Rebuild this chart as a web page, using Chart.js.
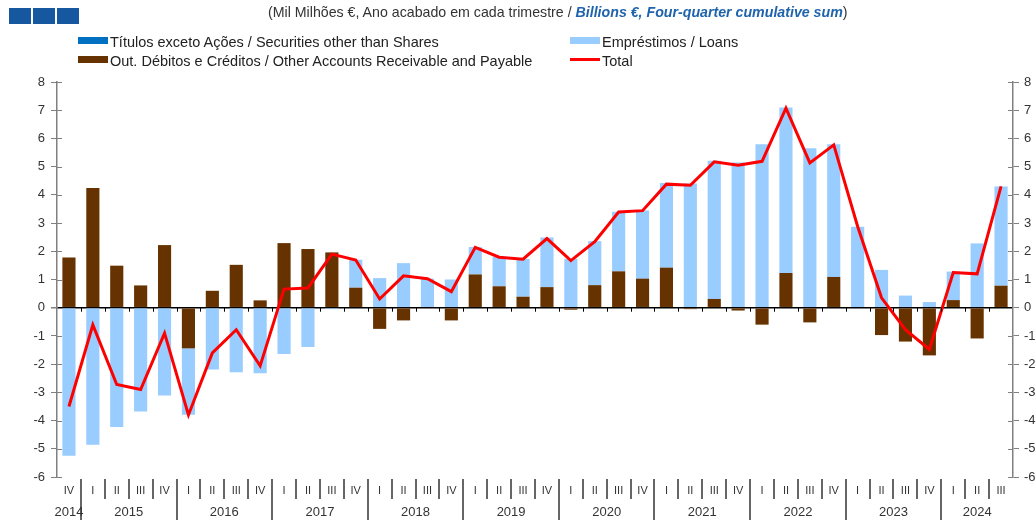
<!DOCTYPE html>
<html>
<head>
<meta charset="utf-8">
<script src="https://cdn.jsdelivr.net/npm/chart.js@4/dist/chart.umd.min.js"></script>
<style>
  html, body { margin: 0; padding: 0; background: #fff; }
  #wrap { position: relative; width: 1036px; height: 520px; font-family: "Liberation Sans", Arial, sans-serif; }
  #chart { position: absolute; left: 0; top: 0; }
  .logo { position: absolute; top: 8px; width: 22px; height: 16px; background: #1558a0; }
  #title { position: absolute; top: 4px; left: 268px; font-size: 14.2px; color: #333; white-space: nowrap; }
  #title i { color: #1f63ad; font-weight: bold; }
  .leg { position: absolute; font-size: 14.5px; color: #222; white-space: nowrap; line-height: 17px; }
  .sw { display: inline-block; width: 30px; height: 7px; vertical-align: 3px; margin-right: 2px; }
</style>
</head>
<body>
<div id="wrap">
  <canvas id="chart" width="1036" height="520"></canvas>
  <div class="logo" style="left:9px"></div>
  <div class="logo" style="left:33px"></div>
  <div class="logo" style="left:57px"></div>
  <div id="title">(Mil Milhões €, Ano acabado em cada trimestre / <i>Billions €, Four-quarter cumulative sum</i>)</div>
  <div class="leg" style="left:78px;top:34px"><span class="sw" style="background:#0070c0"></span>Títulos exceto Ações / Securities other than Shares</div>
  <div class="leg" style="left:570px;top:34px"><span class="sw" style="background:#99ccff"></span>Empréstimos / Loans</div>
  <div class="leg" style="left:78px;top:53px"><span class="sw" style="background:#663300"></span>Out. Débitos e Créditos / Other Accounts Receivable and Payable</div>
  <div class="leg" style="left:570px;top:53px"><span class="sw" style="background:#ff0000;height:3px;vertical-align:5px"></span>Total</div>
</div>
<script>
// Portuguese financial accounts chart: four-quarter cumulative sums, 2014 Q4 - 2024 Q3

const quarters = ['IV',
  'I', 'II', 'III', 'IV', 'I', 'II', 'III', 'IV', 'I', 'II', 'III', 'IV',
  'I', 'II', 'III', 'IV', 'I', 'II', 'III', 'IV', 'I', 'II', 'III', 'IV',
  'I', 'II', 'III', 'IV', 'I', 'II', 'III', 'IV', 'I', 'II', 'III', 'IV',
  'I', 'II', 'III'];
const years = ['2014', '2015', '2016', '2017', '2018', '2019', '2020', '2021', '2022', '2023', '2024'];
const yearStart = [0, 1, 5, 9, 13, 17, 21, 25, 29, 33, 37];

const securities = [0, 0, 0, 0, 0, 0, 0, 0, 0, 0, 0, 0, 0, 0, 0, 0, 0, 0, 0, 0,
  0, 0, 0, 0, 0, 0, 0, 0, 0, 0, 0, 0, 0, 0, 0, 0, 0, 0, 0, 0];
const loans = [-5.25, -4.86, -4.23, -3.68, -3.11, -2.35, -2.19, -2.29, -2.32, -1.64,
  -1.39, -0.05, 0.99, 1.05, 1.58, 1.03, 1.0, 0.97, 1.04, 1.34,
  1.76, 1.73, 1.56, 2.11, 2.42, 3.0, 4.4, 4.9, 5.15, 5.79,
  5.87, 5.65, 4.7, 2.87, 1.34, 0.43, 0.2, 1.01, 2.28, 3.52];
const otherAccounts = [1.78, 4.24, 1.49, 0.79, 2.22, -1.44, 0.6, 1.52, 0.26, 2.29,
  2.08, 1.96, 0.71, -0.75, -0.45, 0.0, -0.45, 1.18, 0.76, 0.39,
  0.73, -0.07, 0.8, 1.29, 1.03, 1.42, -0.05, 0.31, -0.1, -0.6,
  1.23, -0.52, 1.09, 0.0, -0.97, -1.2, -1.69, 0.27, -1.09, 0.78];
const total = [-3.5, -0.61, -2.72, -2.9, -0.9, -3.8, -1.6, -0.78, -2.06, 0.66,
  0.7, 1.9, 1.69, 0.31, 1.13, 1.03, 0.57, 2.14, 1.79, 1.72,
  2.45, 1.67, 2.34, 3.39, 3.44, 4.38, 4.34, 5.17, 5.05, 5.19,
  7.07, 5.13, 5.77, 2.88, 0.35, -0.78, -1.48, 1.25, 1.2, 4.3];

const AXIS_GREY = '#808080';

// separators under the x axis, year labels, inner half of y ticks, zero-line ticks
const decorations = {
  id: 'decorations',
  afterDraw(chart) {
    const {ctx, chartArea} = chart;
    const x = chart.scales.x, y = chart.scales.y;
    const step = x.getPixelForValue(1) - x.getPixelForValue(0);
    const y0 = y.getPixelForValue(0);
    ctx.save();

    // small marks under zero line between categories
    ctx.strokeStyle = '#000';
    ctx.lineWidth = 1;
    for (let i = 1; i < quarters.length; i++) {
      const bx = Math.round(x.getPixelForValue(i) - step / 2) + 0.5;
      ctx.beginPath(); ctx.moveTo(bx, y0); ctx.lineTo(bx, y0 + 4); ctx.stroke();
    }

    // inner half of y tick marks on both axes
    ctx.strokeStyle = AXIS_GREY;
    y.ticks.forEach(t => {
      const py = Math.round(y.getPixelForValue(t.value)) + 0.5;
      ctx.beginPath(); ctx.moveTo(chartArea.left, py); ctx.lineTo(chartArea.left + 5, py); ctx.stroke();
      ctx.beginPath(); ctx.moveTo(chartArea.right - 5, py); ctx.lineTo(chartArea.right, py); ctx.stroke();
    });

    // quarter / year separators
    ctx.strokeStyle = '#333';
    ctx.lineWidth = 1.5;
    for (let i = 1; i < quarters.length; i++) {
      const bx = Math.round(x.getPixelForValue(i) - step / 2);
      const isYear = yearStart.includes(i);
      ctx.beginPath();
      ctx.moveTo(bx, chartArea.bottom + 2);
      ctx.lineTo(bx, isYear ? 520 : chartArea.bottom + 22);
      ctx.stroke();
    }

    // year labels
    ctx.fillStyle = '#333';
    ctx.font = '13px "Liberation Sans", Arial, sans-serif';
    ctx.textAlign = 'center';
    ctx.textBaseline = 'middle';
    years.forEach((yr, k) => {
      const first = yearStart[k];
      const last = k + 1 < yearStart.length ? yearStart[k + 1] - 1 : quarters.length - 1;
      const cx = (x.getPixelForValue(first) + x.getPixelForValue(last)) / 2;
      ctx.fillText(yr, cx, chartArea.bottom + 35);
    });
    ctx.restore();
  }
};

const tickFont = {family: '"Liberation Sans", Arial, sans-serif', size: 13};

new Chart(document.getElementById('chart'), {
  type: 'bar',
  data: {
    labels: quarters,
    datasets: [
      {
        type: 'line',
        label: 'Total',
        data: total,
        borderColor: '#ff0000',
        borderWidth: 3,
        pointRadius: 0,
        tension: 0,
        order: 0
      },
      {
        label: 'Out. Débitos e Créditos / Other Accounts Receivable and Payable',
        data: otherAccounts,
        backgroundColor: '#663300',
        order: 1,
        stack: 's'
      },
      {
        label: 'Empréstimos / Loans',
        data: loans,
        backgroundColor: '#99ccff',
        order: 2,
        stack: 's'
      },
      {
        label: 'Títulos exceto Ações / Securities other than Shares',
        data: securities,
        backgroundColor: '#0070c0',
        order: 3,
        stack: 's'
      }
    ]
  },
  plugins: [decorations],
  options: {
    responsive: false,
    animation: false,
    devicePixelRatio: 1,
    layout: { padding: { top: 82, bottom: 0, left: 0, right: 0 } },
    datasets: { bar: { categoryPercentage: 1, barPercentage: 0.55 } },
    plugins: { legend: { display: false }, tooltip: { enabled: false } },
    scales: {
      x: {
        stacked: true,
        grid: { display: false, drawTicks: false },
        border: { display: false },
        ticks: { autoSkip: false, maxRotation: 0, padding: 7, color: '#333', font: {family: tickFont.family, size: 11} },
        afterFit: (s) => { s.height = 43; }
      },
      y: {
        stacked: true,
        position: 'left',
        min: -6,
        max: 8,
        ticks: { stepSize: 1, color: '#333', font: tickFont, padding: 6 },
        grid: {
          drawOnChartArea: true,
          tickLength: 6,
          tickColor: AXIS_GREY,
          color: (c) => c.tick && c.tick.value === 0 ? '#000' : 'rgba(0,0,0,0)',
          lineWidth: (c) => c.tick && c.tick.value === 0 ? 1.5 : 1
        },
        border: { color: AXIS_GREY, width: 1.5 },
        afterFit: (s) => { s.width = 57; }
      },
      y2: {
        position: 'right',
        min: -6,
        max: 8,
        ticks: { stepSize: 1, color: '#333', font: tickFont, padding: 5 },
        grid: { drawOnChartArea: false, tickLength: 6, tickColor: AXIS_GREY },
        border: { color: AXIS_GREY, width: 1.5 },
        afterFit: (s) => { s.width = 23; }
      }
    }
  }
});
</script>
</body>
</html>
